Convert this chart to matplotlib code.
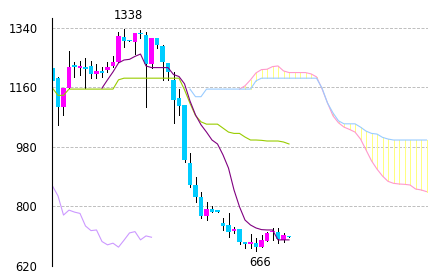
import numpy as np
import matplotlib.pyplot as plt

plt.rcParams['font.family'] = ['Liberation Sans Narrow', 'DejaVu Sans']

# daily candles (44 sessions)
opens = [1220, 1190, 1102, 1158, 1228, 1219, 1223, 1226, 1201, 1210, 1213, 1225,
         1238, 1314, 1304, 1297, 1326, 1319, 1230, 1311, 1286, 1235, 1183, 1129,
         1107, 932, 865, 830, 771, 792, 789, 751, 744, 726, 731, 692, 686, 690,
         678, 695, 722, 723, 699, 712]
highs = [1220, 1193, 1159, 1270, 1238, 1240, 1250, 1240, 1230, 1222, 1238, 1256,
         1327, 1338, 1304, 1324, 1334, 1329, 1311, 1311, 1289, 1235, 1208, 1155,
         1107, 963, 890, 845, 814, 801, 789, 766, 779, 739, 731, 694, 716, 706,
         714, 724, 734, 734, 720, 712]
lows = [1180, 1047, 1077, 1158, 1193, 1198, 1158, 1188, 1190, 1193, 1208, 1223,
        1238, 1283, 1299, 1260, 1309, 1102, 1220, 1279, 1183, 1183, 1052, 1077,
        935, 860, 815, 765, 759, 784, 782, 729, 709, 719, 686, 675, 675, 666,
        678, 695, 699, 691, 692, 708]
closes = [1180, 1102, 1159, 1223, 1222, 1225, 1217, 1201, 1210, 1205, 1223, 1238,
          1317, 1301, 1299, 1324, 1321, 1230, 1311, 1289, 1236, 1208, 1122, 1105,
          940, 865, 830, 771, 792, 784, 782, 742, 722, 731, 694, 686, 692, 678,
          698, 721, 726, 701, 714, 708]

# ichimoku lines
tenkan_start = 9
tenkan = [1158, 1183, 1207, 1234, 1243, 1245, 1254, 1261, 1225, 1220, 1220, 1220,
          1220, 1199, 1193, 1171, 1119, 1077, 1047, 1025, 1001, 989, 956, 916,
          850, 799, 759, 744, 735, 730, 729, 729, 699, 699, 699]
kijun = [1158, 1136, 1136, 1155, 1155, 1155, 1155, 1155, 1155, 1155, 1155, 1155,
         1183, 1188, 1188, 1188, 1188, 1188, 1188, 1188, 1188, 1188, 1188, 1188,
         1153, 1112, 1075, 1056, 1049, 1049, 1049, 1037, 1025, 1021, 1021, 1010,
         1001, 1001, 1000, 998, 998, 998, 995, 989]
span_a_start = 34
span_a = [1155, 1165, 1183, 1204, 1214, 1215, 1223, 1225, 1210, 1205, 1205, 1205,
          1205, 1201, 1192, 1156, 1113, 1074, 1053, 1040, 1033, 1025, 1004, 971,
          938, 913, 892, 876, 870, 868, 867, 865, 853, 850, 845]
span_b_start = 25
span_b = [1155, 1132, 1132, 1155, 1155, 1155, 1155, 1155, 1155, 1155, 1155, 1155,
          1180, 1188, 1188, 1188, 1188, 1188, 1188, 1188, 1188, 1188, 1188, 1188,
          1158, 1113, 1083, 1059, 1050, 1050, 1050, 1040, 1028, 1021, 1019, 1009,
          1004, 1001, 1001, 1001, 1001, 1001, 1001, 1001]
chikou = [862, 832, 774, 789, 783, 779, 741, 727, 729, 694, 684, 689, 677, 698,
          720, 724, 699, 711, 707]

yticks = [620, 800, 980, 1160, 1340]

o = np.array(opens)
c = np.array(closes)
x = np.arange(len(c))
xa = np.arange(span_a_start, span_a_start + len(span_a))
xb = np.arange(span_b_start, span_b_start + len(span_b))

fig = plt.figure(figsize=(4.34, 2.80), dpi=100)
ax = fig.add_axes([52 / 434, 14 / 280, 376 / 434, 248 / 280])

LW = 0.8

# cloud: thin yellow verticals between the two spans
sa = np.array(span_a)
sb = np.array(span_b)[span_a_start - span_b_start:]
diff = sa != sb
ax.vlines(xa[diff], np.minimum(sa, sb)[diff], np.maximum(sa, sb)[diff],
          color='#ffff80', linewidth=0.72, antialiased=False, zorder=2)
ax.plot(xa, span_a, color='#ff99cc', lw=LW, zorder=3)
ax.plot(xb, span_b, color='#99ccff', lw=LW, zorder=3)

# candles
up = c >= o
col = ['#ff00ff' if u else '#00ccff' for u in up]
ax.vlines(x, lows, highs, color='black', linewidth=0.72, antialiased=False, zorder=4)
ax.bar(x, np.maximum(np.abs(c - o), 3), bottom=np.minimum(o, c), width=0.74,
       color=col, linewidth=0, antialiased=False, zorder=5)

ax.plot(np.arange(len(chikou)), chikou, color='#cc99ff', lw=LW, zorder=6)
ax.plot(x, kijun, color='#99cc00', lw=LW, zorder=6)
ax.plot(np.arange(tenkan_start, tenkan_start + len(tenkan)), tenkan,
        color='#800080', lw=LW, zorder=7)

# high / low labels
hi = int(np.argmax(highs))
lo = int(np.argmin(lows))
ax.annotate(str(highs[hi]), xy=(hi, highs[hi]), xytext=(3.5, 5),
            textcoords='offset points', ha='center', va='bottom', fontsize=8.3)
ax.annotate(str(lows[lo]), xy=(lo, lows[lo]), xytext=(3, -3.5),
            textcoords='offset points', ha='center', va='top', fontsize=8.3)

ax.set_xlim(-0.09, 68.27)
ax.set_ylim(620, 1370)
ax.set_yticks(yticks)
ax.set_yticklabels([str(t) for t in yticks], fontsize=8.3)
ax.set_xticks([])
ax.tick_params(axis='y', length=0, pad=10.5)
ax.grid(axis='y', color='#c0c0c0', linestyle=(0, (3, 1.5)), linewidth=0.72)
ax.set_axisbelow(True)
for s in ['top', 'right', 'bottom']:
    ax.spines[s].set_visible(False)
ax.spines['left'].set_linewidth(0.8)
ax.spines['left'].set_zorder(8)

fig.savefig('out.png', dpi=100)
